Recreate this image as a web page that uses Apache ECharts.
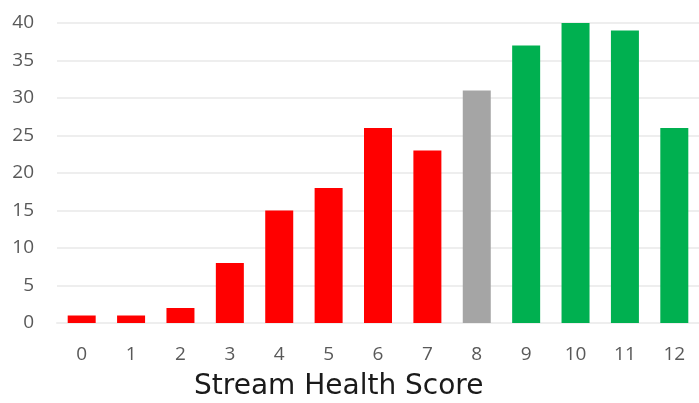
<!DOCTYPE html>
<html><head><meta charset="utf-8">
<script src="https://cdn.jsdelivr.net/npm/echarts@6/dist/echarts.min.js"></script>
<style>html,body{margin:0;padding:0;background:#fff}#c{width:699px;height:403px}</style>
</head><body><div id="c"></div>
<script>
const categories = ['0','1','2','3','4','5','6','7','8','9','10','11','12'];
const values = [1,1,2,8,15,18,26,23,31,37,40,39,26];
const barColors = ['#ff0000','#ff0000','#ff0000','#ff0000','#ff0000','#ff0000','#ff0000','#ff0000','#a5a5a5','#00b050','#00b050','#00b050','#00b050'];
const yTicks = {min:0, max:40, interval:5};
const xTitle = 'Stream Health Score';

const chart = echarts.init(document.getElementById('c'));
chart.setOption({
  animation:false,
  title:{text:xTitle, left:194, top:373, padding:0,
    textStyle:{fontFamily:'DejaVu Sans', fontSize:28, fontWeight:'normal', color:'#1a1a1a'}},
  grid:{left:57, right:-4, top:23, bottom:80},
  xAxis:{type:'category', data:categories,
    axisLine:{show:true, lineStyle:{color:'#eeeeee', width:2}},
    axisTick:{show:false},
    axisLabel:{fontFamily:'Open Sans', fontSize:19, color:'#595959', margin:22}},
  yAxis:{type:'value', min:yTicks.min, max:yTicks.max, interval:yTicks.interval,
    axisLine:{show:false}, axisTick:{show:false},
    splitLine:{lineStyle:{color:'#eeeeee', width:2}},
    axisLabel:{fontFamily:'Open Sans', fontSize:19, color:'#595959', margin:23}},
  series:[{type:'bar', barWidth:28,
    data: values.map((v,i)=>({value:v, itemStyle:{color:barColors[i]}}))}]
});
</script></body></html>
